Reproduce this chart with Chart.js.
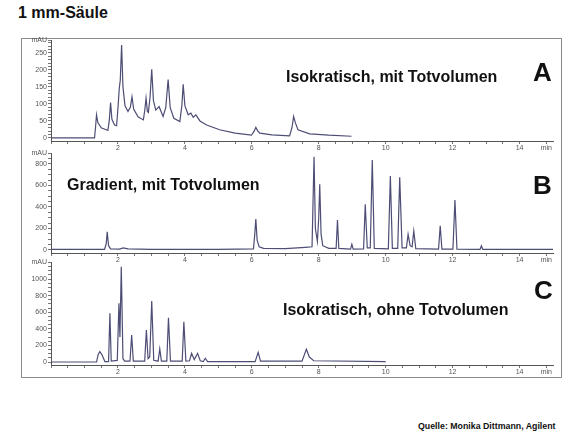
<!DOCTYPE html>
<html lang="de">
<head>
<meta charset="UTF-8">
<title>1 mm-Säule</title>
<script src="https://cdn.jsdelivr.net/npm/chart.js"></script>
<style>
  body { margin: 0; background: #fff; font-family: "Liberation Sans", Arial, sans-serif; }
  #page { position: relative; width: 580px; height: 435px; overflow: hidden; }
  canvas { position: absolute; left: 0; }
  .txt { position: absolute; font-weight: bold; line-height: 1; white-space: nowrap; color: #111; }
  #frame { position: absolute; left: 21px; top: 38px; width: 539px; height: 338px; border: 1px solid #8a8a8a; pointer-events: none; }
</style>
</head>
<body>
<div id="page">
  <div class="txt" style="left:18px;top:5px;font-size:16px;">1 mm-Säule</div>
  <div id="frame"></div>
  <canvas id="chartA" width="580" height="125" style="top:30px"></canvas>
  <canvas id="chartB" width="580" height="125" style="top:143px"></canvas>
  <canvas id="chartC" width="580" height="125" style="top:252px"></canvas>
  <div class="txt" style="left:286px;top:69px;font-size:16px;">Isokratisch, mit Totvolumen</div>
  <div class="txt" style="left:533px;top:59px;font-size:26px;">A</div>
  <div class="txt" style="left:67px;top:177px;font-size:16px;">Gradient, mit Totvolumen</div>
  <div class="txt" style="left:533px;top:172px;font-size:26px;">B</div>
  <div class="txt" style="left:283px;top:302px;font-size:16px;">Isokratisch, ohne Totvolumen</div>
  <div class="txt" style="left:534px;top:277px;font-size:26px;">C</div>
  <div class="txt" style="left:418px;top:422px;font-size:8.8px;">Quelle: Monika Dittmann, Agilent</div>
</div>
<script>
// retention time (min) and signal (mAU)
const timeA = [0, 1.30, 1.33, 1.36, 1.40, 1.50, 1.70, 1.74, 1.78, 1.82, 1.90, 1.96, 2.01, 2.04, 2.07, 2.11, 2.15, 2.21, 2.30, 2.37,
  2.42, 2.47, 2.60, 2.76, 2.80, 2.84, 2.88, 2.91, 2.96, 3.01, 3.06, 3.13, 3.23, 3.35, 3.43, 3.50, 3.56, 3.67, 3.85, 3.91,
  3.95, 4.00, 4.10, 4.18, 4.25, 4.33, 4.45, 4.65, 5.04, 5.50, 5.99, 6.07, 6.12, 6.18, 6.24, 6.60, 7.13, 7.20, 7.25, 7.30,
  7.38, 7.73, 8.30, 8.98];
const signalA = [0, 0, 30, 68, 45, 30, 22, 50, 104, 55, 38, 36, 100, 146, 170, 273, 150, 95, 78, 90,
  121, 85, 62, 53, 80, 117, 78, 75, 120, 202, 110, 82, 92, 63, 90, 172, 90, 58, 48, 95,
  158, 95, 68, 73, 61, 68, 50, 38, 24, 14, 8, 20, 31, 20, 14, 9, 6, 30, 63, 45,
  24, 12, 8, 5];

const timeB = [0, 1.60, 1.65, 1.68, 1.72, 1.78, 2.05, 2.16, 2.30, 3.00, 5.00, 6.05, 6.09, 6.12, 6.16, 6.22, 6.35, 7.00, 7.60, 7.80,
  7.83, 7.86, 7.90, 7.96, 8.00, 8.03, 8.07, 8.12, 8.30, 8.52, 8.56, 8.60, 8.95, 8.99, 9.03, 9.34, 9.39, 9.45, 9.54, 9.60,
  9.66, 10.08, 10.14, 10.20, 10.36, 10.42, 10.49, 10.62, 10.67, 10.73, 10.79, 10.84, 10.90, 11.58, 11.63, 11.68, 12.01, 12.07, 12.13, 12.82,
  12.86, 12.90, 15.00];
const signalB = [5, 5, 60, 170, 40, 10, 8, 20, 10, 6, 5, 10, 150, 288, 90, 30, 15, 12, 25, 30,
  450, 868, 200, 80, 300, 611, 150, 40, 15, 15, 279, 15, 8, 53, 8, 10, 425, 20, 20, 837,
  15, 10, 688, 15, 15, 676, 20, 20, 146, 40, 30, 177, 12, 8, 226, 8, 8, 465, 8, 5,
  40, 5, 5];

const timeC = [0, 1.36, 1.41, 1.46, 1.52, 1.61, 1.72, 1.76, 1.80, 1.98, 2.03, 2.06, 2.10, 2.15, 2.20, 2.36, 2.41, 2.46, 2.80, 2.85,
  2.90, 2.95, 3.01, 3.07, 3.20, 3.25, 3.30, 3.46, 3.51, 3.57, 3.92, 3.97, 4.03, 4.14, 4.20, 4.28, 4.38, 4.46, 4.55, 4.61,
  4.68, 6.10, 6.19, 6.26, 7.50, 7.63, 7.72, 7.85, 10.00];
const signalC = [0, 0, 90, 124, 90, 5, 5, 586, 10, 20, 707, 300, 1148, 40, 10, 10, 325, 10, 10, 386,
  40, 60, 735, 20, 10, 157, 10, 10, 534, 10, 10, 486, 10, 15, 104, 30, 104, 15, 5, 45,
  5, 5, 117, 10, 10, 153, 60, 15, 5];

const xTickLabels = [2, 4, 6, 8, 10, 12, 14];

function makeChart(id, times, signals, yMin, yMax, labelStep, minorStep, plotHeight) {
  const points = times.map((t, i) => ({ x: t, y: signals[i] }));
  const ctx = document.getElementById(id).getContext('2d');
  return new Chart(ctx, {
    type: 'scatter',
    data: {
      datasets: [{
        data: points,
        showLine: true,
        borderColor: '#4d4d75',
        borderWidth: 1.2,
        pointRadius: 0,
        tension: 0
      }]
    },
    options: {
      responsive: false,
      animation: false,
      events: [],
      layout: { padding: { left: 0, right: 27, top: 10, bottom: 0 } },
      plugins: { legend: { display: false }, tooltip: { enabled: false } },
      scales: {
        x: {
          type: 'linear', min: 0, max: 15,
          afterBuildTicks: (scale) => {
            const ticks = [];
            for (let v = 0; v <= 14.01; v += 0.5) ticks.push({ value: v });
            ticks.push({ value: 14.8 });
            scale.ticks = ticks;
          },
          afterFit: (scale) => { scale.height = 115 - plotHeight; },
          ticks: {
            autoSkip: false, maxRotation: 0, padding: 0,
            font: { size: 7, family: 'Liberation Sans' }, color: '#555',
            callback: (v) => v === 14.8 ? 'min' : (xTickLabels.includes(v) ? String(v) : '')
          },
          grid: { drawOnChartArea: false, tickLength: 3, color: '#777' },
          border: { color: '#555', width: 1 }
        },
        y: {
          min: yMin, max: yMax,
          afterBuildTicks: (scale) => {
            const ticks = [];
            for (let v = 0; v < yMax - minorStep / 2; v += minorStep) ticks.push({ value: v });
            ticks.push({ value: yMax });
            scale.ticks = ticks;
          },
          afterFit: (scale) => { scale.width = 51; },
          ticks: {
            autoSkip: false, padding: 1,
            font: { size: 7, family: 'Liberation Sans' }, color: '#555',
            callback: (v) => v === yMax ? 'mAU' : (v % labelStep === 0 ? String(v) : '')
          },
          grid: { drawOnChartArea: false, tickLength: 3, color: '#777' },
          border: { color: '#555', width: 1 }
        }
      }
    }
  });
}

makeChart('chartA', timeA, signalA, -9, 288, 50, 10, 101);
makeChart('chartB', timeB, signalB, -28, 902, 200, 50, 100);
makeChart('chartC', timeC, signalC, -36, 1205, 200, 50, 103);
</script>
</body>
</html>
